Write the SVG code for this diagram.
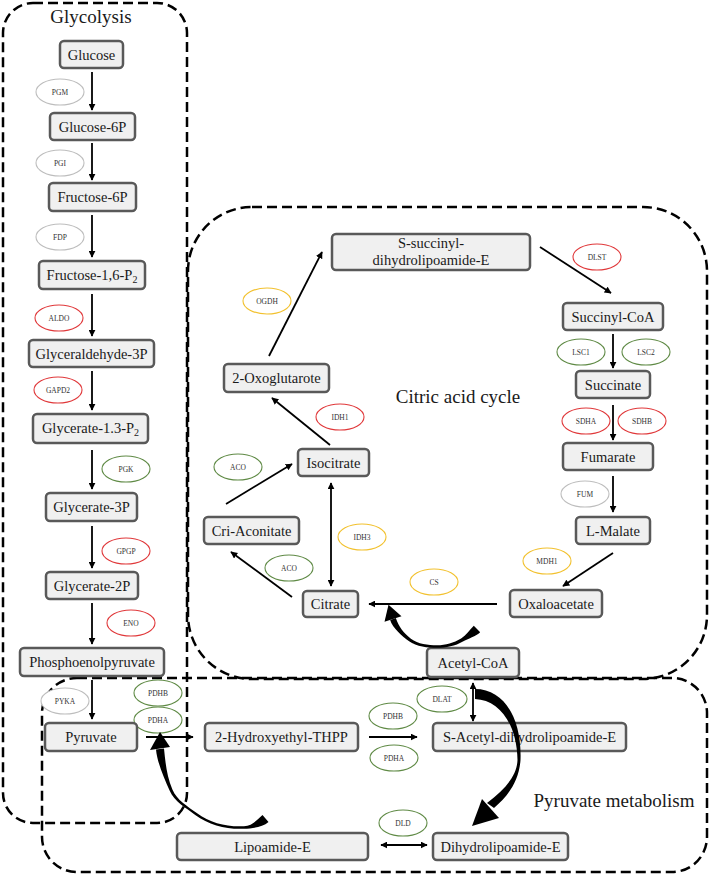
<svg xmlns="http://www.w3.org/2000/svg" width="709" height="874" viewBox="0 0 709 874">
<style>
.bg{fill:#ffffff}
.region{fill:none;stroke:#000;stroke-width:2.5;stroke-dasharray:10 5}
.node rect{fill:#f0f0f0;stroke:#595959;stroke-width:2.5}
.node text{font-family:"Liberation Serif","Times New Roman",serif;font-size:14.5px;fill:#1a1a1a;text-anchor:middle}
.enz ellipse{fill:#ffffff;stroke-width:1.1}
.enz text{font-family:"Liberation Serif","Times New Roman",serif;font-size:7.5px;fill:#333;text-anchor:middle}
.grey ellipse{stroke:#bdbdbd}
.red ellipse{stroke:#e0383a}
.green ellipse{stroke:#5f8a45}
.yellow ellipse{stroke:#f2c12e}
.title{font-family:"Liberation Serif","Times New Roman",serif;font-size:19px;fill:#1a1a1a}
.arr{fill:none;stroke:#000;stroke-width:1.8;marker-end:url(#ah)}
.darr{fill:none;stroke:#000;stroke-width:1.8;marker-end:url(#ah);marker-start:url(#ah)}
.thick{fill:#000;stroke:none}
</style>
<defs>
<marker id="ah" viewBox="0 0 10 10" refX="9" refY="5" markerWidth="7" markerHeight="7" markerUnits="userSpaceOnUse" orient="auto-start-reverse">
<path d="M0,0 L10,5 L0,10 z" fill="#000"/>
</marker>
</defs>
<rect class="bg" x="0" y="0" width="709" height="874"/>

<g id="regions">
<rect class="region" x="3" y="3" width="184" height="820" rx="30" ry="30"/>
<rect class="region" x="188" y="207" width="519" height="472" rx="64" ry="64"/>
<rect class="region" x="42" y="678" width="665" height="194" rx="35" ry="35"/>
<text class="title" x="91" y="23" text-anchor="middle">Glycolysis</text>
<text class="title" x="458" y="403" text-anchor="middle">Citric acid cycle</text>
<text class="title" x="614" y="807" text-anchor="middle">Pyruvate metabolism</text>
</g>

<g id="enzymes">
<g id="e-pgm" class="enz grey"><ellipse cx="60" cy="92" rx="24" ry="13"/><text x="60" y="94.5">PGM</text></g>
<g id="e-pgi" class="enz grey"><ellipse cx="60" cy="163" rx="24" ry="13"/><text x="60" y="165.5">PGI</text></g>
<g id="e-fdp" class="enz grey"><ellipse cx="60" cy="237" rx="24" ry="13"/><text x="60" y="239.5">FDP</text></g>
<g id="e-aldo" class="enz red"><ellipse cx="59" cy="318" rx="24" ry="13"/><text x="59" y="320.5">ALDO</text></g>
<g id="e-gapd2" class="enz red"><ellipse cx="58" cy="390" rx="24" ry="13"/><text x="58" y="392.5">GAPD2</text></g>
<g id="e-pgk" class="enz green"><ellipse cx="126" cy="469" rx="24" ry="13"/><text x="126" y="471.5">PGK</text></g>
<g id="e-gpgp" class="enz red"><ellipse cx="126" cy="551" rx="24" ry="13"/><text x="126" y="553.5">GPGP</text></g>
<g id="e-eno" class="enz red"><ellipse cx="131" cy="623" rx="24" ry="13"/><text x="131" y="625.5">ENO</text></g>
<g id="e-pyka" class="enz grey"><ellipse cx="65" cy="701" rx="24" ry="13"/><text x="65" y="703.5">PYKA</text></g>
<g id="e-pdhb1" class="enz green"><ellipse cx="158" cy="693" rx="24" ry="13"/><text x="158" y="695.5">PDHB</text></g>
<g id="e-pdha1" class="enz green"><ellipse cx="158" cy="720" rx="24" ry="13"/><text x="158" y="722.5">PDHA</text></g>
<g id="e-pdhb2" class="enz green"><ellipse cx="393" cy="716" rx="24" ry="13"/><text x="393" y="718.5">PDHB</text></g>
<g id="e-pdha2" class="enz green"><ellipse cx="394" cy="758" rx="24" ry="13"/><text x="394" y="760.5">PDHA</text></g>
<g id="e-dlat" class="enz green"><ellipse cx="442" cy="699" rx="25" ry="13"/><text x="442" y="701.5">DLAT</text></g>
<g id="e-dld" class="enz green"><ellipse cx="403" cy="823" rx="24" ry="13"/><text x="403" y="825.5">DLD</text></g>
<g id="e-ogdh" class="enz yellow"><ellipse cx="267" cy="301" rx="24" ry="13"/><text x="267" y="303.5">OGDH</text></g>
<g id="e-dlst" class="enz red"><ellipse cx="597" cy="257" rx="24" ry="13"/><text x="597" y="259.5">DLST</text></g>
<g id="e-lsc1" class="enz green"><ellipse cx="581" cy="352" rx="24" ry="13"/><text x="581" y="354.5">LSC1</text></g>
<g id="e-lsc2" class="enz green"><ellipse cx="646" cy="352" rx="24" ry="13"/><text x="646" y="354.5" fill="#5a3a6a">LSC2</text></g>
<g id="e-sdha" class="enz red"><ellipse cx="586" cy="421" rx="24" ry="13"/><text x="586" y="423.5">SDHA</text></g>
<g id="e-sdhb" class="enz red"><ellipse cx="642" cy="421" rx="24" ry="13"/><text x="642" y="423.5">SDHB</text></g>
<g id="e-fum" class="enz grey"><ellipse cx="585" cy="494" rx="24" ry="13"/><text x="585" y="496.5">FUM</text></g>
<g id="e-mdh1" class="enz yellow"><ellipse cx="547" cy="561" rx="24" ry="13"/><text x="547" y="563.5">MDH1</text></g>
<g id="e-cs" class="enz yellow"><ellipse cx="434" cy="582" rx="24" ry="13"/><text x="434" y="584.5">CS</text></g>
<g id="e-idh3" class="enz yellow"><ellipse cx="362" cy="537" rx="24" ry="13"/><text x="362" y="539.5">IDH3</text></g>
<g id="e-aco1" class="enz green"><ellipse cx="289" cy="568" rx="24" ry="13"/><text x="289" y="570.5">ACO</text></g>
<g id="e-aco2" class="enz green"><ellipse cx="238" cy="467" rx="24" ry="13"/><text x="238" y="469.5">ACO</text></g>
<g id="e-idh1" class="enz red"><ellipse cx="340" cy="417" rx="24" ry="13"/><text x="340" y="419.5">IDH1</text></g>
</g>

<g id="nodes">
<g id="glucose" class="node"><rect x="60" y="41" width="63" height="27" rx="4"/><text x="91.5" y="59.5">Glucose</text></g>
<g id="glucose6p" class="node"><rect x="50" y="113" width="85" height="27" rx="4"/><text x="92.5" y="131.5">Glucose-6P</text></g>
<g id="fructose6p" class="node"><rect x="49" y="183" width="87" height="28" rx="4"/><text x="92.5" y="202">Fructose-6P</text></g>
<g id="fructose16p2" class="node"><rect x="39" y="261" width="106" height="28" rx="4"/><text x="92" y="280">Fructose-1,6-P<tspan font-size="10" dy="3">2</tspan></text></g>
<g id="glyceraldehyde3p" class="node"><rect x="29" y="340" width="125" height="27" rx="4"/><text x="91.5" y="358.5">Glyceraldehyde-3P</text></g>
<g id="glycerate13p2" class="node"><rect x="33" y="414" width="115" height="29" rx="4"/><text x="90.5" y="433">Glycerate-1.3-P<tspan font-size="10" dy="3">2</tspan></text></g>
<g id="glycerate3p" class="node"><rect x="46" y="493" width="91" height="28" rx="4"/><text x="91.5" y="512">Glycerate-3P</text></g>
<g id="glycerate2p" class="node"><rect x="46" y="572" width="92" height="27" rx="4"/><text x="92" y="590.5">Glycerate-2P</text></g>
<g id="pep" class="node"><rect x="20" y="648" width="144" height="28" rx="4"/><text x="92" y="667">Phosphoenolpyruvate</text></g>
<g id="pyruvate" class="node"><rect x="45" y="723" width="92" height="28" rx="4"/><text x="91" y="742">Pyruvate</text></g>
<g id="hethpp" class="node"><rect x="205" y="723" width="153" height="28" rx="4"/><text x="281.5" y="742">2-Hydroxyethyl-THPP</text></g>
<g id="sacetyl" class="node"><rect x="433" y="723" width="193" height="28" rx="4"/><text x="529.5" y="742">S-Acetyl-dihydrolipoamide-E</text></g>
<g id="acetylcoa" class="node"><rect x="427" y="648" width="92" height="29" rx="4"/><text x="473" y="667.5">Acetyl-CoA</text></g>
<g id="lipoamide" class="node"><rect x="177" y="833" width="191" height="27" rx="4"/><text x="272.5" y="851.5">Lipoamide-E</text></g>
<g id="dihydrolipoamide" class="node"><rect x="433" y="833" width="135" height="27" rx="4"/><text x="500.5" y="851.5">Dihydrolipoamide-E</text></g>
<g id="ssuccinyl" class="node"><rect x="332" y="234" width="198" height="36" rx="4"/><text x="431" y="248">S-succinyl-</text><text x="431" y="265">dihydrolipoamide-E</text></g>
<g id="succinylcoa" class="node"><rect x="563" y="303" width="100" height="27" rx="4"/><text x="613" y="321.5">Succinyl-CoA</text></g>
<g id="succinate" class="node"><rect x="576" y="371" width="74" height="27" rx="4"/><text x="613" y="389.5">Succinate</text></g>
<g id="fumarate" class="node"><rect x="563" y="443" width="90" height="27" rx="4"/><text x="608" y="461.5">Fumarate</text></g>
<g id="lmalate" class="node"><rect x="576" y="517" width="74" height="27" rx="4"/><text x="613" y="535.5">L-Malate</text></g>
<g id="oxaloacetate" class="node"><rect x="510" y="590" width="92" height="27" rx="4"/><text x="556" y="608.5">Oxaloacetate</text></g>
<g id="citrate" class="node"><rect x="303" y="591" width="55" height="26" rx="4"/><text x="330.5" y="609">Citrate</text></g>
<g id="criaconitate" class="node"><rect x="204" y="517" width="95" height="27" rx="4"/><text x="251.5" y="535.5">Cri-Aconitate</text></g>
<g id="isocitrate" class="node"><rect x="298" y="449" width="71" height="27" rx="4"/><text x="333.5" y="467.5">Isocitrate</text></g>
<g id="oxoglutarote" class="node"><rect x="224" y="364" width="105" height="28" rx="4"/><text x="276.5" y="383">2-Oxoglutarote</text></g>
</g>

<g id="connectors">
<line class="arr" x1="92" y1="72" x2="92" y2="110"/>
<line class="arr" x1="92" y1="143" x2="92" y2="180"/>
<line class="arr" x1="92" y1="215" x2="92" y2="257"/>
<line class="arr" x1="92" y1="294" x2="92" y2="336"/>
<line class="arr" x1="92" y1="371" x2="92" y2="410"/>
<line class="arr" x1="92" y1="450" x2="92" y2="489"/>
<line class="arr" x1="92" y1="526" x2="92" y2="568"/>
<line class="arr" x1="92" y1="603" x2="92" y2="644"/>
<line class="arr" x1="92" y1="680" x2="92" y2="719"/>
<line class="arr" x1="146" y1="737" x2="193" y2="737"/>
<line class="arr" x1="369" y1="737" x2="417" y2="737"/>
<line class="darr" x1="473" y1="683" x2="473" y2="721"/>
<line class="darr" x1="381" y1="845" x2="427" y2="845"/>
<line class="arr" x1="269" y1="356" x2="322" y2="252"/>
<line class="arr" x1="540" y1="247" x2="611" y2="293"/>
<line class="arr" x1="613" y1="334" x2="613" y2="368"/>
<line class="arr" x1="613" y1="405" x2="613" y2="440"/>
<line class="arr" x1="613" y1="476" x2="613" y2="512"/>
<line class="arr" x1="613" y1="553" x2="563" y2="586"/>
<line class="arr" x1="497" y1="604" x2="369" y2="604"/>
<line class="arr" x1="292" y1="597" x2="231" y2="552"/>
<line class="arr" x1="226" y1="504" x2="292" y2="464"/>
<line class="darr" x1="331" y1="483" x2="331" y2="586"/>
<line class="arr" x1="330" y1="445" x2="272" y2="398"/>
<path class="thick" d="M390.15,619.9 C393,628.5 402,635.8 409.1,641.2 C416.3,646.6 428,647.75 437,647.75 C446,647.75 455.25,646 462.9,641.5 C468,638.5 476,636.4 480.2,632.2 L473.8,625.8 C469.6,630 466.2,635.5 461.1,638.5 C453.45,643 446,645.25 437,645.25 C428,645.25 418.1,644.2 410.9,638.8 C403.7,633.4 398.5,626.5 395.85,618.1 Z"/>
<path class="thick" d="M388.5,604.8 L384.5,621.7 L401.5,616.3 Z"/>
<path class="thick" d="M475,689 C505,689 522,720 520.5,760 C519,782 507,797 494,808 L487,803 C505,789 517,776 517.5,760 C517,725 500,700 475,699 Z"/>
<path class="thick" d="M482,799 L499,818 L472,826 Z"/>
<path class="thick" d="M156,749.4 C157.4,763.3 164,777.7 169.6,790.6 C174.4,801.6 185.65,807.8 195.25,815 C208.85,825.2 227,829.6 244,828.75 C252,828.35 262.5,827.2 268.5,821.9 L262.5,815.1 C256.5,820.4 252,825.85 244,826.25 C227,827.1 210.35,823.2 196.75,813 C187.15,805.8 177.2,800.4 172.4,789.4 C166.8,776.5 165.4,762.5 164,748.6 Z"/>
<path class="thick" d="M160,732 L150,750 L170,747 Z"/>
</g>
</svg>
